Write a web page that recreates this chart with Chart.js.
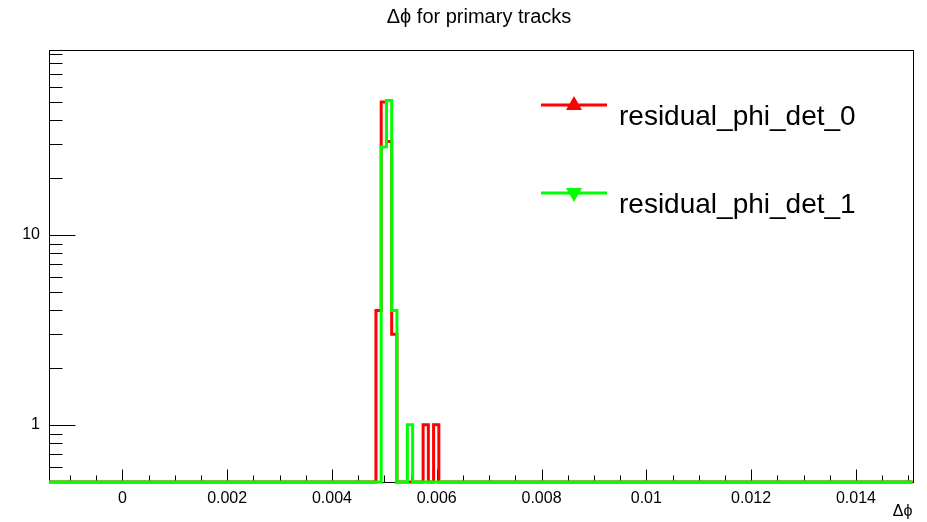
<!DOCTYPE html>
<html><head><meta charset="utf-8">
<script src="https://cdn.jsdelivr.net/npm/chart.js@4.4.0/dist/chart.umd.min.js"></script>
<style>html,body{margin:0;padding:0;background:#fff;} #wrap{width:927px;height:522px;}</style>
</head><body><div id="wrap"><canvas id="c" width="927" height="522"></canvas></div>
<script>
// ---- data ----
const TITLE = 'Δϕ for primary tracks';
const X_TITLE = 'Δϕ';
const SERIES_NAMES = ['residual_phi_det_0', 'residual_phi_det_1'];
const X_MIN = -0.0014, X_MAX = 0.01508;
const Y_MIN = 0.5, Y_MAX = 94;
const BIN_WIDTH = 0.0001;
const X_TICKS = [0, 0.002, 0.004, 0.006, 0.008, 0.01, 0.012, 0.014];
const X_TICK_LABELS = ['0', '0.002', '0.004', '0.006', '0.008', '0.01', '0.012', '0.014'];
const X_MINOR_STEP = 0.0005;
const Y_TICKS = [1, 10];
const Y_TICK_LABELS = ['1', '10'];
const redBinLow = [0.00484, 0.00494, 0.00504, 0.00514, 0.00574, 0.00594];
const redCounts = [4, 50, 31, 3, 1, 1];
const greenBinLow = [0.00494, 0.00504, 0.00514, 0.00544];
const greenCounts = [29, 51, 4, 1];

const FONT = '"Liberation Sans", Arial, Helvetica, sans-serif';
const RED = '#ff0000', GREEN = '#00ff00';

function stepPoints(lows, counts) {
  const pts = [{x: X_MIN, y: Y_MIN}];
  for (let i = 0; i < lows.length; i++) {
    pts.push({x: lows[i], y: counts[i]});
    const hi = lows[i] + BIN_WIDTH;
    const contig = i + 1 < lows.length && Math.abs(lows[i + 1] - hi) < BIN_WIDTH * 0.01;
    if (!contig) pts.push({x: hi, y: Y_MIN});
  }
  pts.push({x: X_MAX, y: Y_MIN});
  return pts;
}

const framePlugin = {
  id: 'frame',
  beforeDatasetsDraw(chart) {
    const {ctx, chartArea: a, scales: {x, y}} = chart;
    ctx.save();
    ctx.strokeStyle = '#000';
    ctx.lineWidth = 1;
    ctx.strokeRect(Math.round(a.left) + 0.5, Math.round(a.top) + 0.5,
                   Math.round(a.right - a.left), Math.round(a.bottom - a.top));
    ctx.beginPath();
    const bot = Math.round(a.bottom) + 0.5;
    const start = Math.ceil(X_MIN / X_MINOR_STEP) * X_MINOR_STEP;
    for (let v = start; v <= X_MAX + 1e-12; v += X_MINOR_STEP) {
      const isMajor = X_TICKS.some(t => Math.abs(t - v) < 1e-9);
      const px = Math.round(x.getPixelForValue(v)) + 0.5;
      ctx.moveTo(px, bot);
      ctx.lineTo(px, bot - (isMajor ? 13 : 7));
    }
    const left = Math.round(a.left) + 0.5;
    for (let d = 0.1; d <= 100; d *= 10) {
      for (let k = 1; k <= 9; k++) {
        const v = d * k;
        if (v < Y_MIN - 1e-9 || v > Y_MAX) continue;
        const isMajor = Y_TICKS.some(t => Math.abs(t - v) < 1e-9);
        const py = Math.round(y.getPixelForValue(v)) + 0.5;
        ctx.moveTo(left, py);
        ctx.lineTo(left + (isMajor ? 26 : 13), py);
      }
    }
    ctx.stroke();
    ctx.restore();
  },
  afterDraw(chart) {
    const {ctx, chartArea: a} = chart;
    ctx.save();
    ctx.fillStyle = '#000';
    ctx.textBaseline = 'middle';
    ctx.textAlign = 'center';
    ctx.font = '20px ' + FONT;
    ctx.fillText(TITLE, 479, 17);
    ctx.textAlign = 'right';
    ctx.font = '16px ' + FONT;
    ctx.fillText(X_TITLE, a.right, 512);
    // legend
    const entries = [
      {name: SERIES_NAMES[0], color: RED, up: true, ly: 105, ty: 117},
      {name: SERIES_NAMES[1], color: GREEN, up: false, ly: 193, ty: 205}
    ];
    entries.forEach(e => {
      ctx.strokeStyle = e.color; ctx.lineWidth = 3;
      ctx.beginPath(); ctx.moveTo(541, e.ly); ctx.lineTo(607, e.ly); ctx.stroke();
      ctx.fillStyle = e.color;
      ctx.beginPath();
      const cx = 574, h = 14, w = 16;
      if (e.up) { ctx.moveTo(cx, e.ly - h/2 - 2); ctx.lineTo(cx + w/2, e.ly + h/2 - 2); ctx.lineTo(cx - w/2, e.ly + h/2 - 2); }
      else { ctx.moveTo(cx, e.ly + h/2 + 2); ctx.lineTo(cx + w/2, e.ly - h/2 + 2); ctx.lineTo(cx - w/2, e.ly - h/2 + 2); }
      ctx.closePath(); ctx.fill();
      ctx.fillStyle = '#000';
      ctx.textAlign = 'left';
      ctx.font = '28px ' + FONT;
      ctx.fillText(e.name, 619, e.ty);
    });
    ctx.restore();
  }
};

const CLIP = {left: 2, top: 3, right: 2, bottom: 3};

new Chart(document.getElementById('c'), {
  type: 'line',
  data: {
    datasets: [
      {label: SERIES_NAMES[0], data: stepPoints(redBinLow, redCounts), borderColor: RED,
       borderWidth: 3, stepped: true, pointRadius: 0, fill: false, order: 1, clip: CLIP},
      {label: SERIES_NAMES[1], data: stepPoints(greenBinLow, greenCounts), borderColor: GREEN,
       borderWidth: 3, stepped: true, pointRadius: 0, fill: false, order: 0, clip: CLIP}
    ]
  },
  options: {
    responsive: false, animation: false, devicePixelRatio: 1,
    layout: {padding: {left: 0, right: 14.5, top: 50, bottom: 0}},
    plugins: {legend: {display: false}, title: {display: false}, tooltip: {enabled: false}},
    scales: {
      x: {
        type: 'linear', min: X_MIN, max: X_MAX,
        grid: {display: false, drawTicks: false}, border: {display: false},
        afterBuildTicks: s => { s.ticks = X_TICKS.map(v => ({value: v})); },
        afterFit: s => { s.height = 40; },
        ticks: {padding: 7, maxRotation: 0, autoSkip: false, color: '#000',
                font: {family: FONT, size: 16}, callback: (v, i) => X_TICK_LABELS[i]}
      },
      y: {
        type: 'logarithmic', min: Y_MIN, max: Y_MAX,
        grid: {display: false, drawTicks: false}, border: {display: false},
        afterBuildTicks: s => { s.ticks = Y_TICKS.map(v => ({value: v})); },
        afterFit: s => { s.width = 49; },
        ticks: {padding: 9, autoSkip: false, color: '#000',
                font: {family: FONT, size: 16}, callback: (v, i) => Y_TICK_LABELS[i]}
      }
    }
  },
  plugins: [framePlugin]
});
</script>
</body></html>
